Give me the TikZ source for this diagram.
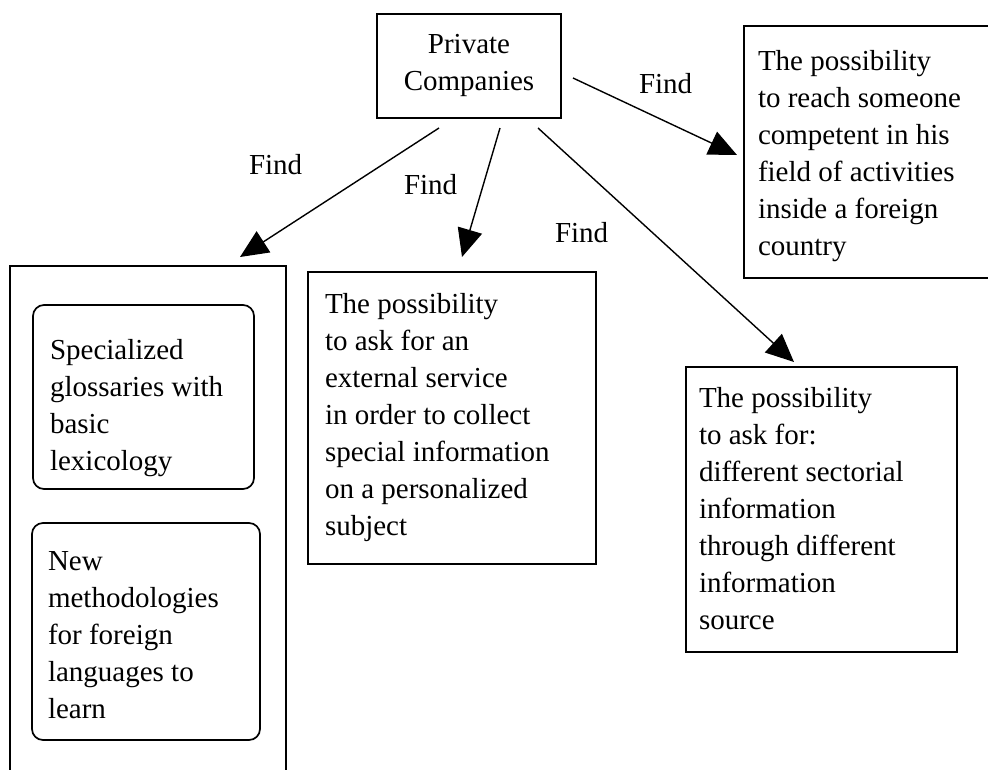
\documentclass[tikz,border=0pt]{standalone}
\usepackage{fontspec}
\setmainfont{Liberation Serif}
\usetikzlibrary{arrows.meta,calc}
% stacked lines, first baseline is the reference point
\newcommand\linestack[2][l]{\begin{tabular}[t]{@{}#1@{}}#2\end{tabular}}
\begin{document}
\begin{tikzpicture}[x=1pt,y=-1pt,
  every node/.style={inner sep=0pt, outer sep=0pt},
  txt/.style={anchor=base west, font=\fontsize{29}{37}\selectfont},
  frame/.style={draw, line width=1.7pt, anchor=north west},
  roundframe/.style={frame, rounded corners=11pt},
  link/.style={line width=1.4pt, -{Triangle[length=28pt,width=25pt]}},
]
\useasboundingbox[fill=white] (0,0) rectangle (988,769);
\clip (0,0) rectangle (988,769);

% source box
\node[frame, minimum width=184pt, minimum height=104pt] (pc) at (377,14) {};
\node[txt, anchor=base] (pctext) at (469,53) {\linestack[c]{Private\\Companies}};

% left column with two rounded boxes
\node[frame, minimum width=276pt, minimum height=560pt] (left) at (10,266) {};
\node[roundframe, minimum width=221pt, minimum height=184pt] (gloss) at (33,305) {};
\node[roundframe, minimum width=228pt, minimum height=217pt] (method) at (32,523) {};
\node[txt] (glosstext) at (50,359) {\linestack{Specialized\\glossaries with\\basic\\lexicology}};
\node[txt] (methodtext) at (48,570) {\linestack{New\\methodologies\\for foreign\\languages to\\learn}};

% middle box
\node[frame, minimum width=288pt, minimum height=292pt] (mid) at (308,272) {};
\node[txt] (midtext) at (325,313) {\linestack{The possibility\\to ask for an\\external service\\in order to collect\\special information\\on a personalized\\subject}};

% upper right box
\node[frame, minimum width=260pt, minimum height=252pt] (reach) at (744,26) {};
\node[txt] (reachtext) at (758,70) {\linestack{The possibility\\to reach someone\\competent in his\\field of activities\\inside a foreign\\country}};

% lower right box
\node[frame, minimum width=271pt, minimum height=285pt] (sector) at (686,367) {};
\node[txt] (sectortext) at (699,407) {\linestack{The possibility\\to ask for:\\different sectorial\\information\\through different\\information\\source}};

% connector labels
\node[txt] (f1) at (249,174) {Find};
\node[txt] (f2) at (404,194) {Find};
\node[txt] (f3) at (555,242) {Find};
\node[txt] (f4) at (639,93) {Find};

% connector end points
\coordinate (s1) at ($(pc.south west)+(62,10)$);
\coordinate (s2) at ($(pc.south west)+(123,10)$);
\coordinate (s3) at ($(pc.south west)+(161,10)$);
\coordinate (s4) at ($(pc.east)+(12,12)$);
\coordinate (t1) at ($(left.north west)+(230,-9)$);
\coordinate (t2) at ($(mid.north west)+(154,-15)$);
\coordinate (t3) at ($(sector.north west)+(108,-5)$);
\coordinate (t4) at ($(reach.north west)+(-7,129)$);

\draw[link] (s1) -- (t1);
\draw[link] (s2) -- (t2);
\draw[link] (s3) -- (t3);
\draw[link] (s4) -- (t4);
\end{tikzpicture}
\end{document}
